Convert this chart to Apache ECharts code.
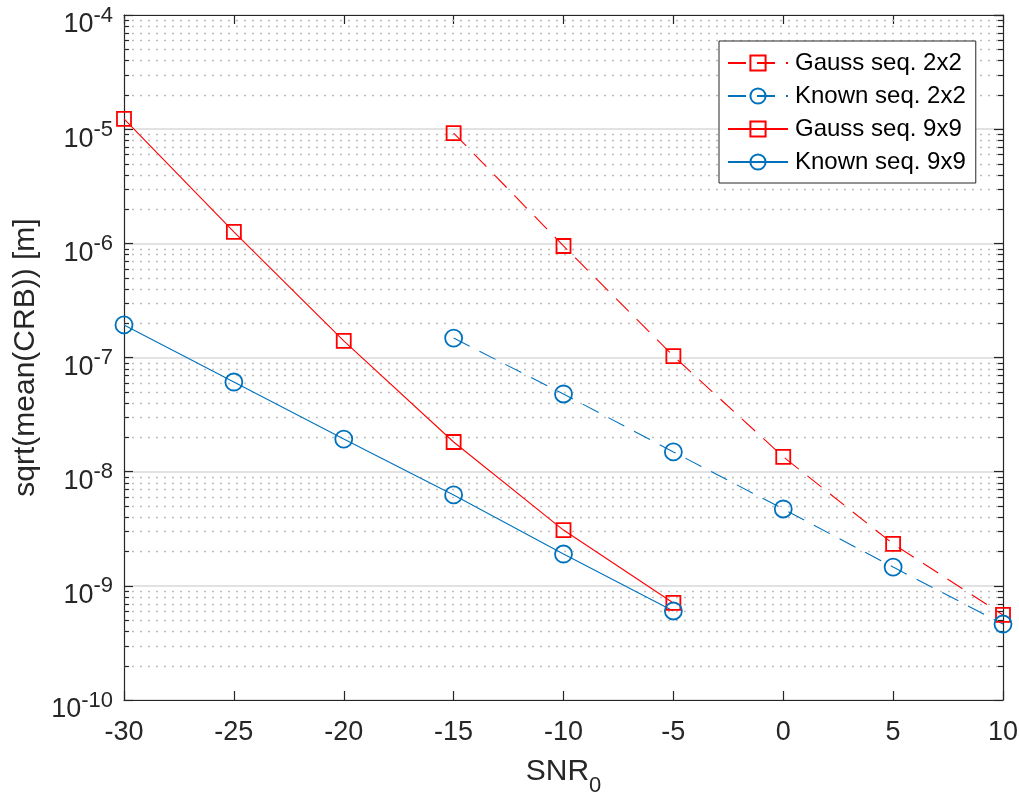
<!DOCTYPE html>
<html>
<head>
<meta charset="utf-8">
<script src="https://cdn.jsdelivr.net/npm/echarts@6/dist/echarts.min.js"></script>
<style>
html,body{margin:0;padding:0;background:#fff;}
#chart{width:1019px;height:800px;}
</style>
</head>
<body>
<div id="chart"></div>
<script>
// ---- data ----
const snr2x2 = [-15, -10, -5, 0, 5, 10];
const snr9x9 = [-30, -25, -20, -15, -10, -5];
const gauss2x2 = [9.25e-6, 9.48e-7, 1.03e-7, 1.35e-8, 2.33e-9, 5.56e-10];
const known2x2 = [1.48e-7, 4.79e-8, 1.49e-8, 4.71e-9, 1.46e-9, 4.63e-10];
const gauss9x9 = [1.23e-5, 1.26e-6, 1.40e-7, 1.82e-8, 3.08e-9, 7.08e-10];
const known9x9 = [1.93e-7, 6.10e-8, 1.93e-8, 6.25e-9, 1.90e-9, 6.02e-10];
const seriesNames = ['Gauss seq. 2x2', 'Known seq. 2x2', 'Gauss seq. 9x9', 'Known seq. 9x9'];
const xTicks = [-30, -25, -20, -15, -10, -5, 0, 5, 10];
const yDecades = [-10, -9, -8, -7, -6, -5, -4];
const xLabel = 'SNR';
const xLabelSub = '0';
const yLabel = 'sqrt(mean(CRB)) [m]';

const RED = '#ff0000', BLUE = '#0072bd', AX = '#262626';
const FONT = '"Liberation Sans", Arial, Helvetica, sans-serif';

const xMin = xTicks[0], xMax = xTicks[xTicks.length - 1];
const yMin = Math.pow(10, yDecades[0]), yMax = Math.pow(10, yDecades[yDecades.length - 1]);

// minor log positions (2..9 x 10^k)
const minorData = [];
for (let i = 0; i < yDecades.length - 1; i++) {
  for (let m = 2; m <= 9; m++) minorData.push([xMin, m * Math.pow(10, yDecades[i])]);
}

function pairs(xs, ys) { return xs.map((x, i) => [x, ys[i]]); }

function mkSeries(name, xs, ys, color, symbol, size, dashed) {
  return {
    name: name, type: 'line', data: pairs(xs, ys),
    symbol: symbol, symbolSize: size, showAllSymbol: true, clip: false,
    lineStyle: { color: color, width: 1.1, type: dashed ? [18, 11] : 'solid' },
    itemStyle: { color: 'rgba(0,0,0,0)', borderColor: color, borderWidth: 1.8 },
    emphasis: { disabled: true }, z: 5
  };
}

const axisLineStyle = { show: true, onZero: false, lineStyle: { color: AX, width: 1.2 } };
const tickStyle = { show: true, inside: true, length: 9, lineStyle: { color: AX, width: 1.2 } };

const chart = echarts.init(document.getElementById('chart'), null, { renderer: 'canvas' });
const option = {
  animation: false,
  backgroundColor: '#ffffff',
  textStyle: { fontFamily: FONT },
  grid: { left: 124, right: 16, top: 15, bottom: 100, containLabel: false, outerBoundsMode: 'none' },
  legend: {
    data: seriesNames,
    orient: 'vertical',
    left: 719, top: 41,
    padding: [10, 10, 9, 8],
    itemWidth: 60, itemHeight: 19, itemGap: 9,
    backgroundColor: '#ffffff',
    borderColor: AX, borderWidth: 1,
    textStyle: { fontSize: 24, color: '#000', fontFamily: FONT, lineHeight: 24, padding: [0, 0, 0, 2] },
    selectedMode: false
  },
  xAxis: [{
    type: 'value', min: xMin, max: xMax, interval: 5, position: 'bottom',
    name: '{a|' + xLabel + '}{s|' + xLabelSub + '}',
    nameLocation: 'middle', nameGap: 57,
    nameTextStyle: {
      rich: {
        a: { fontSize: 30, lineHeight: 40, verticalAlign: 'top', color: AX, fontFamily: FONT },
        s: { fontSize: 22, lineHeight: 22, verticalAlign: 'bottom', color: AX, fontFamily: FONT }
      }
    },
    axisLine: axisLineStyle,
    axisTick: tickStyle,
    axisLabel: { fontSize: 27, color: AX, margin: 19, fontFamily: FONT },
    splitLine: { show: false }
  }, {
    type: 'value', min: xMin, max: xMax, interval: 5, position: 'top',
    axisLine: axisLineStyle,
    axisTick: tickStyle,
    axisLabel: { show: false }, splitLine: { show: false }
  }],
  yAxis: [{
    type: 'log', logBase: 10, min: yMin, max: yMax, position: 'left',
    name: yLabel, nameLocation: 'middle', nameGap: 80,
    nameTextStyle: { fontSize: 30, color: AX, fontFamily: FONT },
    axisLine: axisLineStyle,
    axisTick: tickStyle,
    axisLabel: {
      margin: 11, color: AX, padding: [13, 0, 0, 0],
      formatter: function (v) {
        const e = Math.round(Math.log10(v));
        return '{b|10}{e|' + e + '}';
      },
      rich: {
        b: { fontSize: 27, lineHeight: 34, verticalAlign: 'bottom', color: AX, fontFamily: FONT },
        e: { fontSize: 22, lineHeight: 22, verticalAlign: 'top', color: AX, fontFamily: FONT }
      }
    },
    splitLine: { show: true, lineStyle: { color: '#e2e2e2', width: 1.8 } }
  }, {
    type: 'log', logBase: 10, min: yMin, max: yMax, position: 'right',
    axisLine: axisLineStyle,
    axisTick: tickStyle,
    axisLabel: { show: false }, splitLine: { show: false }
  }],
  series: [
    {
      name: 'minor', type: 'custom', data: minorData, silent: true, z: 1, clip: false,
      encode: { x: 0, y: 1 },
      renderItem: function (params, api) {
        const cs = params.coordSys;
        const y = Math.round(api.coord([api.value(0), api.value(1)])[1]) + 0.5;
        return {
          type: 'group',
          children: [
            { type: 'line', shape: { x1: cs.x, y1: y, x2: cs.x + cs.width, y2: y },
              style: { stroke: '#bdbdbd', lineWidth: 1.6, lineDash: [2, 6] } },
            { type: 'line', shape: { x1: cs.x, y1: y, x2: cs.x + 5, y2: y },
              style: { stroke: AX, lineWidth: 1.2 } },
            { type: 'line', shape: { x1: cs.x + cs.width - 5, y1: y, x2: cs.x + cs.width, y2: y },
              style: { stroke: AX, lineWidth: 1.2 } }
          ]
        };
      }
    },
    mkSeries(seriesNames[0], snr2x2, gauss2x2, RED, 'rect', 14, true),
    mkSeries(seriesNames[1], snr2x2, known2x2, BLUE, 'circle', 17, true),
    mkSeries(seriesNames[2], snr9x9, gauss9x9, RED, 'rect', 14, false),
    mkSeries(seriesNames[3], snr9x9, known9x9, BLUE, 'circle', 17, false)
  ]
};
chart.setOption(option);
</script>
</body>
</html>
